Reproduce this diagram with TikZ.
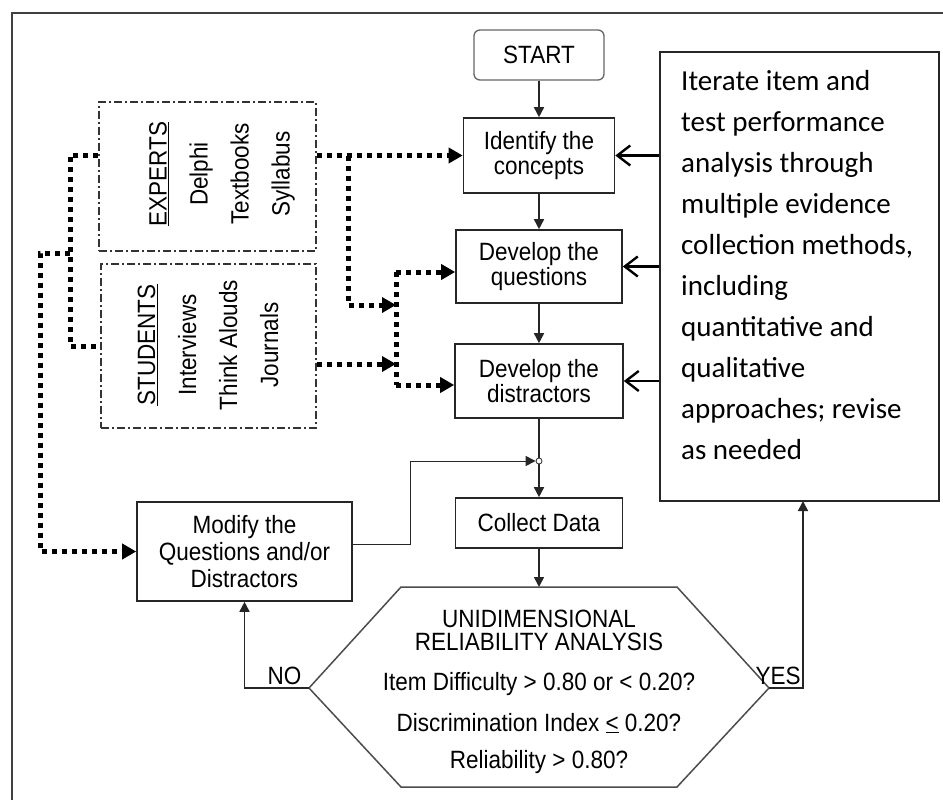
\documentclass[tikz,border=0pt]{standalone}
\usepackage{fontspec}
\setmainfont{Liberation Sans}[FakeStretch=0.9]
\newfontfamily\notefont{Carlito}
\usetikzlibrary{arrows.meta}

\begin{document}
\begin{tikzpicture}[x=1pt,y=-1pt,
  box/.style={draw=black!85,line width=1.6pt,align=center,inner sep=0pt},
  groupbox/.style={draw=black!80,line width=1.3pt,inner sep=0pt,
    dash pattern=on 8pt off 3pt on 2pt off 3pt},
  grouptext/.style={rotate=90,align=center,font=\fontsize{25}{41}\selectfont},
  junction/.style={circle,draw=black!85,fill=white,line width=0.8pt,
    inner sep=0pt,minimum size=6pt},
  flow/.style={draw=black!85,line width=1.6pt},
  flowarrow/.style={flow,-{Triangle[length=10pt,width=10pt]}},
  thinarrow/.style={draw=black!85,line width=1pt,-{Triangle[length=10pt,width=10pt]}},
  dotline/.style={line width=5pt,dash pattern=on 5pt off 5pt},
  dotarrow/.style={dotline,-{Triangle[length=14pt,width=15pt]}},
  barbarrow/.style={line width=2.4pt,-{Straight Barb[length=13pt,width=20pt]}},
  hexline/.style={draw=black!70,line width=1.5pt}]

  \useasboundingbox (0,0) rectangle (943,800);
  \draw[black!75,line width=1.5pt] (12,800) -- (12,13) -- (943,13);

  \begin{scope}[font=\fontsize{25}{25}\selectfont]
    \node[box,rounded corners=6pt,draw=black!60,line width=1.3pt,
      minimum width=130pt,minimum height=50pt] (start) at (539,55) {START};
    \node[box,minimum width=151pt,minimum height=75pt] (ident) at (539,155.5) {Identify the\\concepts};
    \node[box,minimum width=166pt,minimum height=73pt] (ques) at (539,266.5) {Develop the\\questions};
    \node[box,minimum width=168pt,minimum height=74pt] (distr) at (539,381) {Develop the\\distractors};
    \node[junction] (merge) at (539,461) {};
    \node[box,minimum width=167pt,minimum height=50pt] (collect) at (539,523) {Collect Data};
    \node[box,minimum width=215pt,minimum height=99pt,font=\fontsize{25}{27}\selectfont]
      (modify) at (244.5,551.5) {Modify the\\Questions and/or\\Distractors};

    \node[groupbox,minimum width=217pt,minimum height=149pt] (expertsbox) at (207.5,176.5) {};
    \node[groupbox,minimum width=215pt,minimum height=164pt] (studentsbox) at (208.5,346) {};
    \node[grouptext] (expertstext) at (222,174) {\underline{EXPERTS}\\Delphi\\Textbooks\\Syllabus};
    \node[grouptext] (studentstext) at (208,345) {\underline{STUDENTS}\\Interviews\\Think Alouds\\Journals};

    \coordinate (hexW) at (309,688);
    \coordinate (hexE) at (769,688);
    \coordinate (hexN) at (539,587);
    \draw[hexline] (hexW) -- (401,587) -- (677,587) -- (hexE) -- (677,787) -- (401,787) -- cycle;
    \node[align=center,font=\fontsize{25}{23}\selectfont] (analysis) at (539,692)
      {UNIDIMENSIONAL\\RELIABILITY ANALYSIS\\[17pt]Item Difficulty > 0.80 or < 0.20?\\[16pt]%
       Discrimination Index \underline{<} 0.20?\\[14pt]Reliability > 0.80?};

    \draw[flowarrow] (hexW) -- node[above,pos=0.38,inner sep=2pt] {NO} (hexW -| modify.south) -- (modify.south);
    \draw[flowarrow] (hexE) -- node[above,pos=0.27,inner sep=2pt] {YES} (hexE -| 803,0) -- (803,501);
  \end{scope}

  \node[draw=black!85,line width=1.6pt,inner sep=0pt,minimum width=279pt,
    minimum height=449pt] (iterbox) at (799.5,276.5) {};
  \node[anchor=north west,align=left,inner sep=0pt,
    font=\notefont\fontsize{29}{41}\selectfont] (itertext) at (681,70)
    {Iterate item and\\test performance\\analysis through\\multiple evidence\\collection methods,\\including\\quantitative and\\qualitative\\approaches; revise\\as needed};

  \draw[flowarrow] (start) -- (ident);
  \draw[flowarrow] (ident) -- (ques);
  \draw[flowarrow] (ques) -- (distr);
  \draw[flow] (distr) -- (merge);
  \draw[flowarrow] (merge) -- (collect);
  \draw[flowarrow] (collect) -- (hexN);
  \draw[thinarrow] ([yshift=7.5pt]modify.east) -- ++(58,0) |- (merge);

  \foreach \target in {ident,ques,distr}
    \draw[barbarrow] (iterbox.west |- \target.east) -- (\target.east);

  \coordinate (split) at (ident.west -| 348,0);
  \coordinate (forktop) at (396,272);
  \coordinate (forkbot) at (396,385);
  \coordinate (forkin1) at (396,305);
  \coordinate (forkin2) at (396,364);
  \coordinate (bracket) at (70,253);
  \coordinate (rail) at (40,253);

  \draw[dotarrow] (expertsbox.east |- ident.west) -- (ident.west);
  \draw[dotarrow] (split) |- (forkin1);
  \draw[dotarrow] (studentsbox.east |- forkin2) -- (forkin2);
  \draw[dotline] (forktop) -- (forkbot);
  \draw[dotarrow] (forktop) -- (forktop -| ques.west);
  \draw[dotarrow] (forkbot) -- (forkbot -| distr.west);
  \draw[dotline] (expertsbox.west |- split) -| (bracket) |- (studentsbox.west);
  \draw[dotarrow] (bracket) -- (rail) |- (modify.west);
\end{tikzpicture}
\end{document}
